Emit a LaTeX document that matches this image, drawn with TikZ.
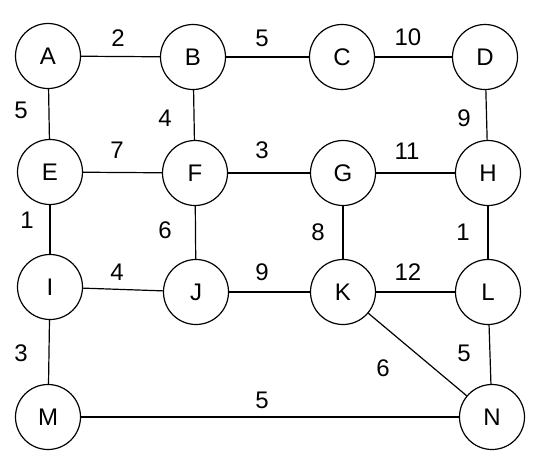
\documentclass[tikz,border=0pt]{standalone}
\usepackage{fontspec}
\setmainfont{Liberation Sans}
\begin{document}
\begin{tikzpicture}[x=1pt,y=-1pt,
  vtx/.style={circle,draw,line width=1.2pt,minimum size=65pt,inner sep=0pt,font=\fontsize{24}{24}\selectfont},
  edge/.style={line width=1.2pt},
  wt/.style={font=\fontsize{24}{24}\selectfont,inner sep=0pt}]
\useasboundingbox (0,0) rectangle (550,459);
\node[vtx] (A) at (48,56) {A};
\node[vtx] (B) at (193,57) {B};
\node[vtx] (C) at (342,57) {C};
\node[vtx] (D) at (485,57) {D};
\node[vtx] (E) at (50,172) {E};
\node[vtx] (F) at (195,173) {F};
\node[vtx] (G) at (343,173) {G};
\node[vtx] (H) at (488,173) {H};
\node[vtx] (I) at (50,287) {I};
\node[vtx] (J) at (196,292) {J};
\node[vtx] (K) at (343,292) {K};
\node[vtx] (L) at (488,292) {L};
\node[vtx] (M) at (48,417) {M};
\node[vtx] (N) at (492,417) {N};
\draw[edge] (A) -- (B);
\draw[edge] (B) -- (C);
\draw[edge] (C) -- (D);
\draw[edge] (A) -- (E);
\draw[edge] (B) -- (F);
\draw[edge] (D) -- (H);
\draw[edge] (E) -- (F);
\draw[edge] (F) -- (G);
\draw[edge] (G) -- (H);
\draw[edge] (E) -- (I);
\draw[edge] (F) -- (J);
\draw[edge] (G) -- (K);
\draw[edge] (H) -- (L);
\draw[edge] (I) -- (J);
\draw[edge] (J) -- (K);
\draw[edge] (K) -- (L);
\draw[edge] (I) -- (M);
\draw[edge] (K) -- (N);
\draw[edge] (L) -- (N);
\draw[edge] (M) -- (N);
\node[wt] (w1) at (118,38) {2};
\node[wt] (w2) at (262,38) {5};
\node[wt] (w3) at (408,37) {10};
\node[wt] (w4) at (21,110) {5};
\node[wt] (w5) at (165,118) {4};
\node[wt] (w6) at (464,118) {9};
\node[wt] (w7) at (117,150) {7};
\node[wt] (w8) at (262,150) {3};
\node[wt] (w9) at (407,151) {11};
\node[wt] (w10) at (27,220) {1};
\node[wt] (w11) at (165,230) {6};
\node[wt] (w12) at (318,232) {8};
\node[wt] (w13) at (463,232) {1};
\node[wt] (w14) at (117,272) {4};
\node[wt] (w15) at (262,272) {9};
\node[wt] (w16) at (408,272) {12};
\node[wt] (w17) at (21,353) {3};
\node[wt] (w18) at (464,353) {5};
\node[wt] (w19) at (383,368) {6};
\node[wt] (w20) at (262,400) {5};
\end{tikzpicture}
\end{document}
